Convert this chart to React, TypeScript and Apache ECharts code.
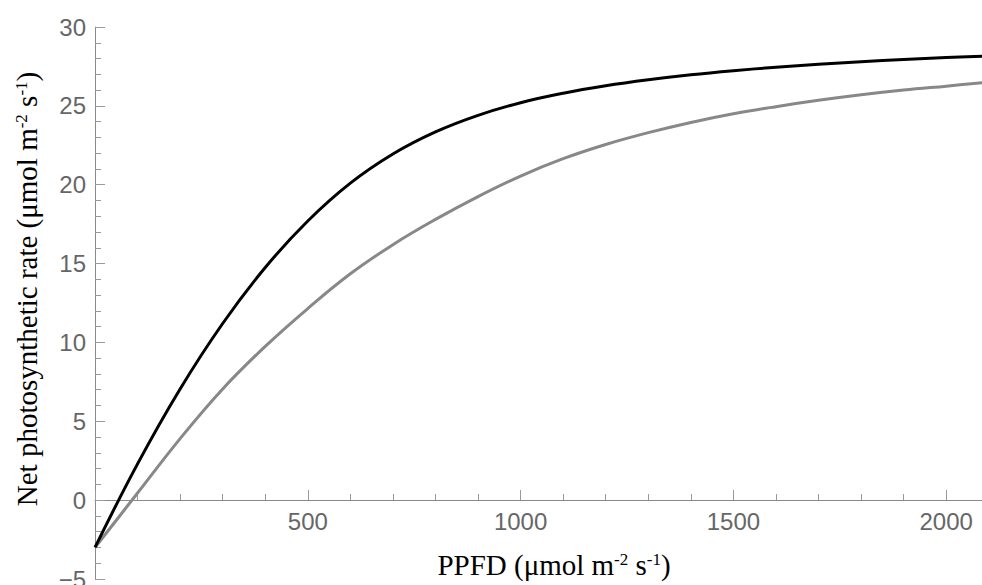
import React, { useEffect, useRef } from "react";
import * as echarts from "echarts";

// PPFD values (µmol m-2 s-1)
const ppfd = [0, 100, 200, 300, 400, 500, 600, 700, 800, 900, 1000, 1100, 1200, 1300, 1400, 1500, 1600, 1700, 1800, 1900, 2000, 2100];
// Net photosynthetic rate, black curve
const rateBlack = [-3.0, 2.3, 7.05, 11.2, 14.75, 17.7, 20.1, 21.95, 23.35, 24.4, 25.2, 25.8, 26.27, 26.65, 26.97, 27.23, 27.45, 27.64, 27.8, 27.94, 28.06, 28.16];
// Net photosynthetic rate, gray curve
const rateGray = [-3.0, 0.45, 3.9, 7.05, 9.75, 12.15, 14.35, 16.2, 17.8, 19.25, 20.55, 21.65, 22.55, 23.3, 23.95, 24.5, 24.95, 25.35, 25.7, 26.0, 26.25, 26.5];

const xTickLabels = [500, 1000, 1500, 2000];
const xTitle = "PPFD (\u03bcmol m{sup|-2} s{sup|-1})";
const yTitle = "Net photosynthetic rate (\u03bcmol m{sup|-2} s{sup|-1})";

export default function App() {
  const ref = useRef<HTMLDivElement>(null);
  useEffect(() => {
    document.body.style.margin = "0";
    const chart = echarts.init(ref.current!, null, { renderer: "svg" });
    const axisColor = "#8a8a8a";
    const tickColor = "#9a9a9a";
    const labelFont = "'Liberation Sans', Arial, sans-serif";
    const titleFont = "'Liberation Serif', 'Times New Roman', serif";
    const rich = {
      sup: { fontSize: 17, fontFamily: titleFont, color: "#000", verticalAlign: "top" },
    };
    chart.setOption({
      animation: false,
      grid: {
        left: 95,
        top: 27,
        bottom: 6,
        right: -177,
        containLabel: false,
        outerBoundsMode: "none",
      },
      xAxis: {
        type: "value",
        min: 0,
        max: 2500,
        interval: 500,
        offset: -79,
        axisLine: { show: true, onZero: false, lineStyle: { color: axisColor, width: 1 } },
        axisTick: { show: true, inside: true, length: 10, lineStyle: { color: tickColor } },
        minorTick: { show: true, splitNumber: 5, length: 6, lineStyle: { color: tickColor } },
        splitLine: { show: false },
        axisLabel: {
          color: "#666",
          fontSize: 24,
          fontFamily: labelFont,
          margin: 9,
          formatter: (v: number) => (xTickLabels.indexOf(v) >= 0 ? String(v) : ""),
        },
      },
      yAxis: {
        type: "value",
        min: -5,
        max: 30,
        interval: 5,
        axisLine: { show: true, onZero: false, lineStyle: { color: axisColor, width: 1 } },
        axisTick: { show: true, inside: true, length: 10, lineStyle: { color: tickColor } },
        minorTick: { show: true, splitNumber: 5, length: 6, lineStyle: { color: tickColor } },
        splitLine: { show: false },
        axisLabel: {
          color: "#666",
          fontSize: 24,
          fontFamily: labelFont,
          margin: 9,
          formatter: (v: number) => String(v).replace("-", "\u2212"),
        },
      },
      series: [
        {
          type: "line",
          data: ppfd.map((x, i) => [x, rateGray[i]]),
          showSymbol: false,
          smooth: 0.4,
          lineStyle: { color: "#888888", width: 3 },
          z: 2,
        },
        {
          type: "line",
          data: ppfd.map((x, i) => [x, rateBlack[i]]),
          showSymbol: false,
          smooth: 0.4,
          lineStyle: { color: "#000000", width: 3 },
          z: 3,
        },
      ],
      graphic: [
        {
          type: "text",
          x: 554,
          y: 565,
          style: {
            text: xTitle,
            fontSize: 29,
            fontFamily: titleFont,
            fill: "#000",
            align: "center",
            verticalAlign: "middle",
            rich,
          },
        },
        {
          type: "text",
          x: 27,
          y: 289,
          rotation: Math.PI / 2,
          style: {
            text: yTitle,
            fontSize: 29,
            fontFamily: titleFont,
            fill: "#000",
            align: "center",
            verticalAlign: "middle",
            rich,
          },
        },
      ],
    });
    return () => chart.dispose();
  }, []);
  return <div ref={ref} style={{ width: 982, height: 585, overflow: "hidden" }} />;
}
